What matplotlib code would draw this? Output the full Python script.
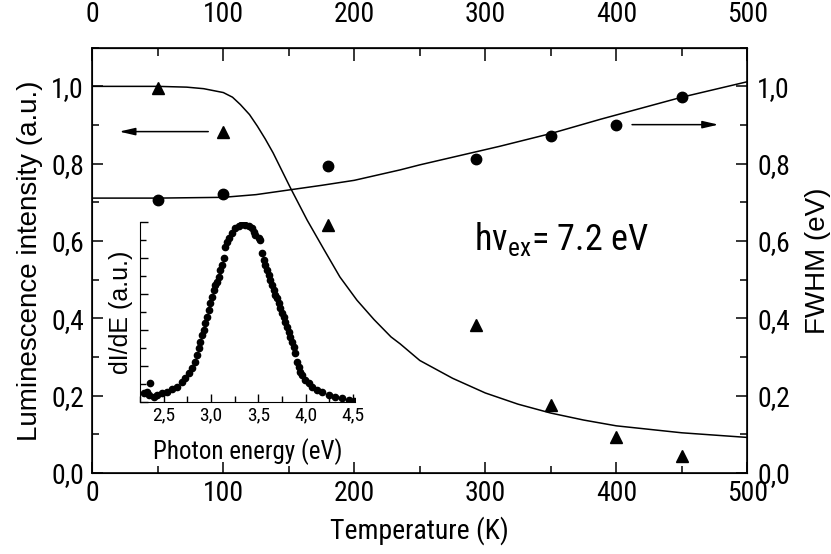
import matplotlib
matplotlib.use("Agg")
import matplotlib.pyplot as plt
from matplotlib import font_manager
from matplotlib.font_manager import FontProperties
from matplotlib.ticker import MultipleLocator, FixedLocator, FixedFormatter

# measured points (triangles = luminescence, circles = FWHM)
temp_pts = [50, 100, 180, 293, 350, 400, 450]
lum_pts = [0.997, 0.881, 0.642, 0.382, 0.177, 0.094, 0.044]
fwhm_pts = [0.706, 0.721, 0.793, 0.812, 0.871, 0.901, 0.973]

# fit curves
lum_fit_t = [0, 50, 72, 85, 100, 107, 113, 120, 126, 132, 138, 151, 164, 177, 189, 202, 215, 228, 235, 250,
             275, 300, 325, 350, 375, 400, 450, 500]
lum_fit_y = [1.0, 1.0, 0.998, 0.994, 0.984, 0.972, 0.953, 0.927, 0.897, 0.864, 0.828, 0.739, 0.654, 0.577,
             0.507, 0.447, 0.397, 0.352, 0.334, 0.291, 0.245, 0.207, 0.178, 0.155, 0.137, 0.122, 0.104, 0.092]
fwhm_fit_t = [0, 50, 100, 125, 150, 175, 200, 235, 250, 311, 350, 388, 450, 500]
fwhm_fit_y = [0.711, 0.711, 0.713, 0.720, 0.732, 0.744, 0.757, 0.784, 0.797, 0.845, 0.878, 0.915, 0.972, 1.012]

# inset spectrum
energy = [2.289, 2.325, 2.342, 2.360, 2.395, 2.430, 2.483, 2.536, 2.588, 2.641, 2.694, 2.729, 2.764, 2.799,
          2.834, 2.852, 2.870, 2.887, 2.905, 2.922, 2.940, 2.957, 2.975, 2.993, 3.010, 3.028, 3.045, 3.063,
          3.080, 3.098, 3.116, 3.133, 3.151, 3.168, 3.186, 3.221, 3.256, 3.291, 3.327, 3.362, 3.397, 3.432,
          3.450, 3.467, 3.502, 3.520, 3.538, 3.555, 3.573, 3.590, 3.608, 3.626, 3.643, 3.661, 3.678, 3.696,
          3.713, 3.731, 3.749, 3.766, 3.784, 3.801, 3.819, 3.837, 3.854, 3.872, 3.889, 3.907, 3.924, 3.942,
          3.960, 3.995, 4.030, 4.065, 4.118, 4.171, 4.241, 4.311, 4.382, 4.452, 4.505]
dIdE = [0.047, 0.056, 0.037, 0.102, 0.028, 0.037, 0.047, 0.056, 0.071, 0.084, 0.111, 0.130, 0.158, 0.186,
        0.223, 0.260, 0.298, 0.334, 0.372, 0.400, 0.437, 0.474, 0.511, 0.548, 0.585, 0.623, 0.650, 0.669,
        0.697, 0.734, 0.762, 0.799, 0.864, 0.892, 0.911, 0.939, 0.967, 0.981, 0.989, 0.985, 0.981, 0.967,
        0.948, 0.929, 0.911, 0.901, 0.827, 0.790, 0.762, 0.734, 0.706, 0.678, 0.650, 0.623, 0.595, 0.576,
        0.548, 0.521, 0.493, 0.474, 0.446, 0.418, 0.390, 0.362, 0.334, 0.307, 0.270, 0.223, 0.195, 0.167,
        0.149, 0.121, 0.102, 0.084, 0.065, 0.052, 0.037, 0.028, 0.019, 0.009, 0.004]

y_ticks = [0.0, 0.2, 0.4, 0.6, 0.8, 1.0]
y_labels = ["0,0", "0,2", "0,4", "0,6", "0,8", "1,0"]
x_ticks = [0, 100, 200, 300, 400, 500]
e_ticks = [2.5, 3.0, 3.5, 4.0, 4.5]
e_labels = ["2,5", "3,0", "3,5", "4,0", "4,5"]


# look for a narrow/condensed sans face, the original text is squeezed
def narrow_font():
    order = ["Liberation", "Arimo", "Roboto", "Noto Sans", "Open Sans", "Lato", "Inter", "DejaVu"]
    found = []
    for f in font_manager.fontManager.ttflist:
        if f.style != "normal" or f.weight not in (400, "normal", "regular"):
            continue
        cond = f.stretch in ("condensed", "semi-condensed", "extra-condensed") \
            or "Narrow" in f.name or "Condensed" in f.name or "Narrow" in f.fname or "Condensed" in f.fname
        if not cond:
            continue
        rank = len(order)
        for i, k in enumerate(order):
            if k in f.name:
                rank = i
                break
        found.append((rank, f.fname))
    if found:
        found.sort()
        return FontProperties(fname=found[0][1])
    return FontProperties(family="Liberation Sans")


plt.rcParams["font.family"] = ["Liberation Sans", "DejaVu Sans"]
nf = narrow_font()


def fp(size):
    p = nf.copy()
    p.set_size(size)
    return p


fig = plt.figure(figsize=(8.31, 5.54), dpi=100)
ax = fig.add_axes([0.1111, 0.1462, 0.7882, 0.7677])

ax.plot(lum_fit_t, lum_fit_y, color="black", lw=1.1)
ax.plot(fwhm_fit_t, fwhm_fit_y, color="black", lw=1.1)
ax.plot(temp_pts, lum_pts, "^", color="black", ms=8, ls="none")

ax.set_xlim(0, 500)
ax.set_ylim(0, 1.1)
ax.xaxis.set_major_locator(FixedLocator(x_ticks))
ax.xaxis.set_minor_locator(MultipleLocator(50))
ax.yaxis.set_major_locator(FixedLocator(y_ticks))
ax.yaxis.set_major_formatter(FixedFormatter(y_labels))
ax.yaxis.set_minor_locator(MultipleLocator(0.1))
ax.tick_params(which="both", direction="in", width=1.1)
ax.tick_params(which="major", length=8)
ax.tick_params(which="minor", length=5)
ax.tick_params(axis="y", pad=6)
ax.tick_params(axis="x", pad=5)
for lab in ax.get_xticklabels() + ax.get_yticklabels():
    lab.set_fontproperties(fp(20))
for s in ax.spines.values():
    s.set_linewidth(1.2)

ax.set_xlabel("Temperature (K)", fontproperties=fp(20), labelpad=7)
ax.set_ylabel("Luminescence intensity (a.u.)", fontsize=20, labelpad=6)

top = ax.secondary_xaxis("top")
top.xaxis.set_major_locator(FixedLocator(x_ticks))
top.xaxis.set_minor_locator(MultipleLocator(50))
top.tick_params(which="both", direction="in", width=1.1, pad=14)
top.tick_params(which="major", length=9)
top.tick_params(which="minor", length=6)
for lab in top.get_xticklabels():
    lab.set_fontproperties(fp(20))

ax2 = ax.twinx()
ax2.plot(temp_pts, fwhm_pts, "o", color="black", ms=7.5, ls="none")
ax2.set_ylim(0, 1.1)
ax2.yaxis.set_major_locator(FixedLocator(y_ticks))
ax2.yaxis.set_major_formatter(FixedFormatter(y_labels))
ax2.yaxis.set_minor_locator(MultipleLocator(0.1))
ax2.tick_params(which="both", direction="in", width=1.1, pad=7)
ax2.tick_params(which="major", length=8)
ax2.tick_params(which="minor", length=5)
for lab in ax2.get_yticklabels():
    lab.set_fontproperties(fp(20))
ax2.set_ylabel("FWHM (eV)", fontsize=20, labelpad=11)

arrow = dict(arrowstyle="-|>,head_length=0.95,head_width=0.22", mutation_scale=10,
             color="black", lw=1.1, shrinkA=0, shrinkB=0)
ax.annotate("", xy=(20.5, 0.883), xytext=(88.5, 0.883), arrowprops=arrow)
ax.annotate("", xy=(478, 0.901), xytext=(412, 0.901), arrowprops=arrow)

ax.text(291, 0.578, r"h$\mathregular{\nu_{ex}}$= 7.2 eV", fontproperties=fp(26),
        ha="left", va="baseline")

# inset
ins = fig.add_axes([0.1685, 0.2749, 0.2587, 0.3238])
ins.plot(energy, dIdE, "o", color="black", ms=4.5, ls="none")
ins.set_xlim(2.25, 4.52)
ins.set_ylim(0, 1.0)
ins.spines["top"].set_visible(False)
ins.spines["right"].set_visible(False)
ins.xaxis.set_major_locator(FixedLocator(e_ticks))
ins.xaxis.set_major_formatter(FixedFormatter(e_labels))
ins.xaxis.set_minor_locator(MultipleLocator(0.25))
ins.yaxis.set_major_locator(MultipleLocator(0.2))
ins.yaxis.set_minor_locator(MultipleLocator(0.1))
ins.tick_params(which="both", direction="in", width=1.0)
ins.tick_params(which="major", length=6)
ins.tick_params(which="minor", length=4)
ins.tick_params(axis="y", labelleft=False)
ins.tick_params(axis="x", pad=3)
for lab in ins.get_xticklabels():
    lab.set_fontproperties(fp(14))
ins.set_xlabel("Photon energy (eV)", fontproperties=fp(18), labelpad=10)
ins.set_ylabel("dI/dE (a.u.)", fontsize=18, labelpad=2)
ins.patch.set_alpha(0)

fig.savefig("out.png", dpi=100)
